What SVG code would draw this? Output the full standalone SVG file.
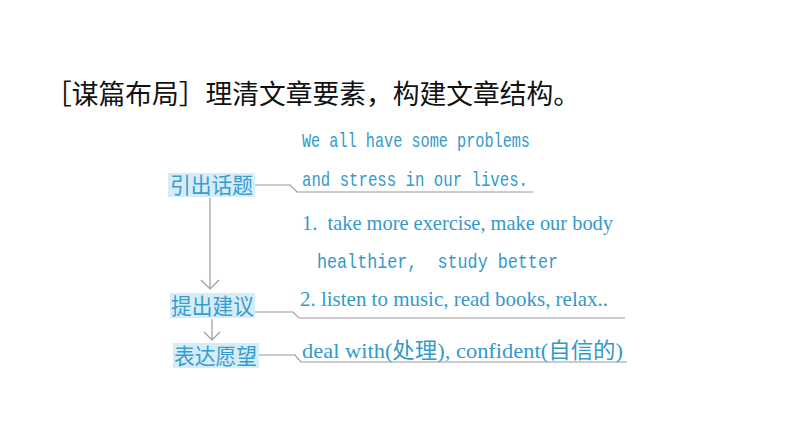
<svg xmlns="http://www.w3.org/2000/svg" width="794" height="447" viewBox="0 0 794 447">
<defs>
<style>
.title{font-family:"Noto Sans CJK SC","Noto Sans",sans-serif;font-size:27px;fill:#111}
.box{fill:#d5edf8}
.ntext{font-family:"Noto Sans CJK SC",sans-serif;font-size:22px;fill:#3a9ccc}
.en{font-family:"Liberation Mono","Noto Sans CJK SC",monospace;font-size:21px;fill:#3399cc}
.en2{font-family:"Liberation Serif","Noto Sans CJK SC",serif;font-size:22px;fill:#3399cc}
.ln{fill:none;stroke:#9a9a9a;stroke-width:1.2}
</style>
</defs>
<rect width="794" height="447" fill="#fff"/>
<text class="title" x="45" y="104" textLength="535" lengthAdjust="spacingAndGlyphs">［谋篇布局］理清文章要素，构建文章结构。</text>
<g id="connectors">
<path class="ln" d="M210,198 V289" />
<path class="ln" d="M201,280 L210,289 L219,280" />
<path class="ln" d="M212,319 V340" />
<path class="ln" d="M204,332 L212,340 L220,332" />
<path class="ln" d="M255,185 H290 L297,192 H533" />
<path class="ln" d="M255,312 H293 L299,318 H625" />
<path class="ln" d="M259,355 H295 L301,362 H627" />
</g>
<g id="node1">
<rect class="box" x="168" y="173" width="87" height="24"/>
<text class="ntext" x="170" y="193" textLength="83" lengthAdjust="spacingAndGlyphs">引出话题</text>
</g>
<g id="node2">
<rect class="box" x="170" y="293" width="85" height="25"/>
<text class="ntext" x="171" y="314" textLength="83" lengthAdjust="spacingAndGlyphs">提出建议</text>
</g>
<g id="node3">
<rect class="box" x="173" y="343" width="86" height="25"/>
<text class="ntext" x="174" y="364" textLength="83" lengthAdjust="spacingAndGlyphs">表达愿望</text>
</g>
<g id="texts">
<text class="en" x="302" y="147" textLength="228" lengthAdjust="spacingAndGlyphs">We all have some problems</text>
<text class="en" x="302" y="186" textLength="226" lengthAdjust="spacingAndGlyphs">and stress in our lives.</text>
<text class="en2" x="302" y="230" textLength="311" lengthAdjust="spacingAndGlyphs" xml:space="preserve">1.  take more exercise, make our body</text>
<text class="en" x="317" y="268" textLength="241" lengthAdjust="spacingAndGlyphs" xml:space="preserve">healthier,  study better</text>
<text class="en2" x="300" y="306" textLength="308" lengthAdjust="spacingAndGlyphs">2. listen to music, read books, relax..</text>
<text class="en2" x="302" y="358" textLength="321" lengthAdjust="spacingAndGlyphs">deal with(处理), confident(自信的)</text>
</g>
</svg>
